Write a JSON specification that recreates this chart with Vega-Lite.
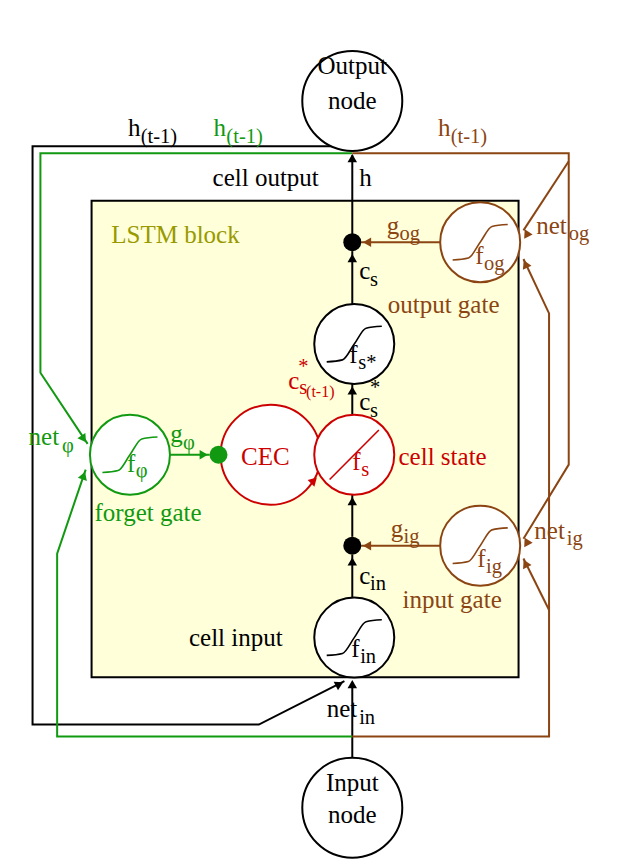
{
  "$schema": "https://vega.github.io/schema/vega-lite/v6.json",
  "autosize": {"type": "fit", "contains": "padding"},
  "width": 618,
  "height": 867,
  "background": "white",
  "config": {"view": {"stroke": null}},
  "datasets": {
    "block": [{"x": 88, "x2": 522, "y": 198, "y2": 680}],
    "paths": [
      {"id": "b1", "o": 1, "x": 353, "y": 240, "c": "black"}, {"id": "b1", "o": 2, "x": 353, "y": 152, "c": "black"},
      {"id": "b2", "o": 1, "x": 345, "y": 684, "c": "black"}, {"id": "b2", "o": 2, "x": 258, "y": 728, "c": "black"},
      {"id": "b2", "o": 3, "x": 28, "y": 728, "c": "black"}, {"id": "b2", "o": 4, "x": 28, "y": 143, "c": "black"},
      {"id": "b2", "o": 5, "x": 353, "y": 143, "c": "black"},
      {"id": "b3", "o": 1, "x": 353, "y": 762, "c": "black"}, {"id": "b3", "o": 2, "x": 353, "y": 685, "c": "black"},
      {"id": "b4", "o": 1, "x": 353, "y": 600, "c": "black"}, {"id": "b4", "o": 2, "x": 353, "y": 556, "c": "black"},
      {"id": "b5", "o": 1, "x": 353, "y": 538, "c": "black"}, {"id": "b5", "o": 2, "x": 353, "y": 495, "c": "black"},
      {"id": "b6", "o": 1, "x": 353, "y": 415, "c": "black"}, {"id": "b6", "o": 2, "x": 353, "y": 383, "c": "black"},
      {"id": "b7", "o": 1, "x": 353, "y": 303, "c": "black"}, {"id": "b7", "o": 2, "x": 353, "y": 249, "c": "black"},
      {"id": "g1", "o": 1, "x": 353, "y": 150, "c": "green"}, {"id": "g1", "o": 2, "x": 36, "y": 150, "c": "green"},
      {"id": "g1", "o": 3, "x": 36, "y": 372, "c": "green"}, {"id": "g1", "o": 4, "x": 84, "y": 444, "c": "green"},
      {"id": "g2", "o": 1, "x": 353, "y": 740, "c": "green"}, {"id": "g2", "o": 2, "x": 53, "y": 740, "c": "green"},
      {"id": "g2", "o": 3, "x": 53, "y": 555, "c": "green"}, {"id": "g2", "o": 4, "x": 82, "y": 470, "c": "green"},
      {"id": "g3", "o": 1, "x": 167, "y": 455, "c": "green"}, {"id": "g3", "o": 2, "x": 208, "y": 455, "c": "green"},
      {"id": "r1", "o": 1, "x": 353, "y": 150, "c": "brown"}, {"id": "r1", "o": 2, "x": 573, "y": 150, "c": "brown"},
      {"id": "r1", "o": 3, "x": 573, "y": 465, "c": "brown"}, {"id": "r1", "o": 4, "x": 527, "y": 540, "c": "brown"},
      {"id": "r2", "o": 1, "x": 573, "y": 158, "c": "brown"}, {"id": "r2", "o": 2, "x": 527, "y": 228, "c": "brown"},
      {"id": "r3", "o": 1, "x": 353, "y": 740, "c": "brown"}, {"id": "r3", "o": 2, "x": 553, "y": 740, "c": "brown"},
      {"id": "r3", "o": 3, "x": 553, "y": 312, "c": "brown"}, {"id": "r3", "o": 4, "x": 527, "y": 257, "c": "brown"},
      {"id": "r4", "o": 1, "x": 553, "y": 612, "c": "brown"}, {"id": "r4", "o": 2, "x": 527, "y": 560, "c": "brown"},
      {"id": "r5", "o": 1, "x": 443, "y": 240, "c": "brown"}, {"id": "r5", "o": 2, "x": 362, "y": 240, "c": "brown"},
      {"id": "r6", "o": 1, "x": 443, "y": 547, "c": "brown"}, {"id": "r6", "o": 2, "x": 362, "y": 547, "c": "brown"}
    ],
    "circles": [
      {"x": 353, "y": 97, "k": "node", "c": "black"},
      {"x": 353, "y": 812, "k": "node", "c": "black"},
      {"x": 127, "y": 455, "k": "gate", "c": "green"},
      {"x": 270, "y": 455, "k": "node", "c": "red"},
      {"x": 355, "y": 455, "k": "gate", "c": "red"},
      {"x": 355, "y": 343, "k": "gate", "c": "black"},
      {"x": 355, "y": 640, "k": "gate", "c": "black"},
      {"x": 483, "y": 240, "k": "gate", "c": "brown"},
      {"x": 483, "y": 547, "k": "gate", "c": "brown"}
    ],
    "dots": [
      {"x": 353, "y": 240, "c": "black"},
      {"x": 353, "y": 547, "c": "black"},
      {"x": 217, "y": 455, "c": "green"}
    ],
    "curves": [
      {"id": "s1", "o": 1, "x": 99, "y": 473, "c": "green"}, {"id": "s1", "o": 2, "x": 115, "y": 471, "c": "green"}, {"id": "s1", "o": 3, "x": 127, "y": 455, "c": "green"}, {"id": "s1", "o": 4, "x": 139, "y": 439, "c": "green"}, {"id": "s1", "o": 5, "x": 155, "y": 437, "c": "green"},
      {"id": "s2", "o": 1, "x": 327, "y": 361, "c": "black"}, {"id": "s2", "o": 2, "x": 343, "y": 359, "c": "black"}, {"id": "s2", "o": 3, "x": 355, "y": 343, "c": "black"}, {"id": "s2", "o": 4, "x": 367, "y": 327, "c": "black"}, {"id": "s2", "o": 5, "x": 383, "y": 325, "c": "black"},
      {"id": "s3", "o": 1, "x": 327, "y": 658, "c": "black"}, {"id": "s3", "o": 2, "x": 343, "y": 656, "c": "black"}, {"id": "s3", "o": 3, "x": 355, "y": 640, "c": "black"}, {"id": "s3", "o": 4, "x": 367, "y": 624, "c": "black"}, {"id": "s3", "o": 5, "x": 383, "y": 622, "c": "black"},
      {"id": "s4", "o": 1, "x": 455, "y": 258, "c": "brown"}, {"id": "s4", "o": 2, "x": 471, "y": 256, "c": "brown"}, {"id": "s4", "o": 3, "x": 483, "y": 240, "c": "brown"}, {"id": "s4", "o": 4, "x": 495, "y": 224, "c": "brown"}, {"id": "s4", "o": 5, "x": 511, "y": 222, "c": "brown"},
      {"id": "s5", "o": 1, "x": 455, "y": 565, "c": "brown"}, {"id": "s5", "o": 2, "x": 471, "y": 563, "c": "brown"}, {"id": "s5", "o": 3, "x": 483, "y": 547, "c": "brown"}, {"id": "s5", "o": 4, "x": 495, "y": 531, "c": "brown"}, {"id": "s5", "o": 5, "x": 511, "y": 529, "c": "brown"},
      {"id": "s6", "o": 1, "x": 330, "y": 480, "c": "red"}, {"id": "s6", "o": 2, "x": 380, "y": 430, "c": "red"}
    ],
    "arrows": [
      {"x": 353, "y": 155, "a": 0, "c": "black"},
      {"x": 353, "y": 256, "a": 0, "c": "black"},
      {"x": 353, "y": 390, "a": 0, "c": "black"},
      {"x": 353, "y": 502, "a": 0, "c": "black"},
      {"x": 353, "y": 563, "a": 0, "c": "black"},
      {"x": 353, "y": 687, "a": 0, "c": "black"},
      {"x": 340, "y": 687, "a": 63, "c": "black"},
      {"x": 368, "y": 240, "a": 270, "c": "brown"},
      {"x": 368, "y": 547, "a": 270, "c": "brown"},
      {"x": 202, "y": 455, "a": 90, "c": "green"},
      {"x": 80, "y": 439, "a": 146, "c": "green"},
      {"x": 80, "y": 476, "a": 19, "c": "green"},
      {"x": 530, "y": 233, "a": 213, "c": "brown"},
      {"x": 529, "y": 262, "a": 335, "c": "brown"},
      {"x": 530, "y": 545, "a": 213, "c": "brown"},
      {"x": 529, "y": 565, "a": 333, "c": "brown"},
      {"x": 314, "y": 481, "a": 45, "c": "red"}
    ],
    "centered": [
      {"x": 353, "y": 70, "t": "Output", "c": "black"},
      {"x": 353, "y": 105, "t": "node", "c": "black"},
      {"x": 353, "y": 795, "t": "Input", "c": "black"},
      {"x": 353, "y": 828, "t": "node", "c": "black"}
    ],
    "labels": [
      {"x": 125, "y": 133, "t": "h", "r": "big", "c": "black"},
      {"x": 138, "y": 140, "t": "(t-1)", "r": "sub", "c": "black"},
      {"x": 212, "y": 133, "t": "h", "r": "big", "c": "green"},
      {"x": 225, "y": 140, "t": "(t-1)", "r": "sub", "c": "green"},
      {"x": 440, "y": 133, "t": "h", "r": "big", "c": "brown"},
      {"x": 453, "y": 140, "t": "(t-1)", "r": "sub", "c": "brown"},
      {"x": 211, "y": 183, "t": "cell output", "r": "big", "c": "black"},
      {"x": 360, "y": 183, "t": "h", "r": "big", "c": "black"},
      {"x": 108, "y": 241, "t": "LSTM block", "r": "big", "c": "olive"},
      {"x": 388, "y": 232, "t": "g", "r": "big", "c": "brown"},
      {"x": 401, "y": 238, "t": "og", "r": "sub", "c": "brown"},
      {"x": 540, "y": 232, "t": "net", "r": "big", "c": "brown"},
      {"x": 573, "y": 238, "t": "og", "r": "sub", "c": "brown"},
      {"x": 478, "y": 262, "t": "f", "r": "big", "c": "brown"},
      {"x": 487, "y": 268, "t": "og", "r": "sub", "c": "brown"},
      {"x": 360, "y": 277, "t": "c", "r": "big", "c": "black"},
      {"x": 371, "y": 284, "t": "s", "r": "sub", "c": "black"},
      {"x": 389, "y": 312, "t": "output gate", "r": "big", "c": "brown"},
      {"x": 350, "y": 362, "t": "f", "r": "big", "c": "black"},
      {"x": 359, "y": 368, "t": "s*", "r": "sub", "c": "black"},
      {"x": 288, "y": 388, "t": "c", "r": "big", "c": "red"},
      {"x": 298, "y": 372, "t": "*", "r": "sub", "c": "red"},
      {"x": 299, "y": 394, "t": "s", "r": "sub", "c": "red"},
      {"x": 306, "y": 397, "t": "(t-1)", "r": "small", "c": "red"},
      {"x": 360, "y": 410, "t": "c", "r": "big", "c": "black"},
      {"x": 371, "y": 394, "t": "*", "r": "sub", "c": "black"},
      {"x": 371, "y": 417, "t": "s", "r": "sub", "c": "black"},
      {"x": 24, "y": 445, "t": "net", "r": "big", "c": "green"},
      {"x": 58, "y": 452, "t": "φ", "r": "sub", "c": "green"},
      {"x": 168, "y": 442, "t": "g", "r": "big", "c": "green"},
      {"x": 181, "y": 449, "t": "φ", "r": "sub", "c": "green"},
      {"x": 124, "y": 472, "t": "f", "r": "big", "c": "green"},
      {"x": 133, "y": 478, "t": "φ", "r": "sub", "c": "green"},
      {"x": 240, "y": 465, "t": "CEC", "r": "big", "c": "red"},
      {"x": 353, "y": 470, "t": "f", "r": "big", "c": "red"},
      {"x": 362, "y": 476, "t": "s", "r": "sub", "c": "red"},
      {"x": 400, "y": 465, "t": "cell state", "r": "big", "c": "red"},
      {"x": 91, "y": 522, "t": "forget gate", "r": "big", "c": "green"},
      {"x": 392, "y": 538, "t": "g", "r": "big", "c": "brown"},
      {"x": 405, "y": 544, "t": "ig", "r": "sub", "c": "brown"},
      {"x": 538, "y": 540, "t": "net", "r": "big", "c": "brown"},
      {"x": 571, "y": 546, "t": "ig", "r": "sub", "c": "brown"},
      {"x": 480, "y": 569, "t": "f", "r": "big", "c": "brown"},
      {"x": 489, "y": 575, "t": "ig", "r": "sub", "c": "brown"},
      {"x": 360, "y": 586, "t": "c", "r": "big", "c": "black"},
      {"x": 371, "y": 592, "t": "in", "r": "sub", "c": "black"},
      {"x": 404, "y": 610, "t": "input gate", "r": "big", "c": "brown"},
      {"x": 187, "y": 648, "t": "cell input", "r": "big", "c": "black"},
      {"x": 352, "y": 660, "t": "f", "r": "big", "c": "black"},
      {"x": 361, "y": 666, "t": "in", "r": "sub", "c": "black"},
      {"x": 327, "y": 720, "t": "net", "r": "big", "c": "black"},
      {"x": 360, "y": 727, "t": "in", "r": "sub", "c": "black"}
    ]
  },
  "layer": [
    {
      "data": {"name": "block"},
      "mark": {"type": "rect", "fill": "#ffffd9", "stroke": "black", "strokeWidth": 2},
      "encoding": {
        "x": {"field": "x", "type": "quantitative", "scale": {"domain": [0, 618], "nice": false, "zero": false}, "axis": null},
        "y": {"field": "y", "type": "quantitative", "scale": {"domain": [0, 867], "nice": false, "zero": false, "reverse": true}, "axis": null},
        "x2": {"field": "x2"},
        "y2": {"field": "y2"}
      }
    },
    {
      "data": {"name": "paths"},
      "mark": {"type": "line", "strokeWidth": 2},
      "encoding": {
        "x": {"field": "x", "type": "quantitative"},
        "y": {"field": "y", "type": "quantitative"},
        "color": {"field": "c", "type": "nominal", "legend": null, "scale": {"domain": ["black", "green", "brown", "red", "olive"], "range": ["#000000", "#119911", "#8b4513", "#cc0000", "#999900"]}},
        "detail": {"field": "id"},
        "order": {"field": "o", "type": "quantitative"}
      }
    },
    {
      "data": {"name": "circles"},
      "mark": {"type": "point", "shape": "circle", "filled": false, "fill": "white", "fillOpacity": 1, "strokeWidth": 2, "opacity": 1},
      "encoding": {
        "x": {"field": "x", "type": "quantitative"},
        "y": {"field": "y", "type": "quantitative"},
        "size": {"field": "k", "type": "nominal", "legend": null, "scale": {"domain": ["node", "gate"], "range": [10000, 6400]}},
        "color": {"field": "c", "type": "nominal", "legend": null}
      }
    },
    {
      "data": {"name": "dots"},
      "mark": {"type": "point", "shape": "circle", "filled": true, "size": 324, "opacity": 1},
      "encoding": {
        "x": {"field": "x", "type": "quantitative"},
        "y": {"field": "y", "type": "quantitative"},
        "color": {"field": "c", "type": "nominal", "legend": null}
      }
    },
    {
      "data": {"name": "curves"},
      "mark": {"type": "line", "strokeWidth": 1.6, "interpolate": "monotone"},
      "encoding": {
        "x": {"field": "x", "type": "quantitative"},
        "y": {"field": "y", "type": "quantitative"},
        "color": {"field": "c", "type": "nominal", "legend": null},
        "detail": {"field": "id"},
        "order": {"field": "o", "type": "quantitative"}
      }
    },
    {
      "data": {"name": "arrows"},
      "mark": {"type": "point", "shape": "triangle-up", "filled": true, "size": 90, "opacity": 1},
      "encoding": {
        "x": {"field": "x", "type": "quantitative"},
        "y": {"field": "y", "type": "quantitative"},
        "color": {"field": "c", "type": "nominal", "legend": null},
        "angle": {"field": "a", "type": "quantitative", "scale": {"domain": [0, 360], "range": [0, 360]}}
      }
    },
    {
      "data": {"name": "centered"},
      "mark": {"type": "text", "font": "Liberation Serif", "baseline": "alphabetic", "align": "center", "fontSize": 25},
      "encoding": {
        "x": {"field": "x", "type": "quantitative"},
        "y": {"field": "y", "type": "quantitative"},
        "color": {"field": "c", "type": "nominal", "legend": null},
        "text": {"field": "t"}
      }
    },
    {
      "data": {"name": "labels"},
      "mark": {"type": "text", "font": "Liberation Serif", "baseline": "alphabetic", "align": "left"},
      "encoding": {
        "x": {"field": "x", "type": "quantitative"},
        "y": {"field": "y", "type": "quantitative"},
        "color": {"field": "c", "type": "nominal", "legend": null},
        "text": {"field": "t"},
        "size": {"field": "r", "type": "nominal", "legend": null, "scale": {"domain": ["big", "sub", "small"], "range": [25, 16, 11]}}
      }
    }
  ],
  "resolve": {"scale": {"size": "independent"}}
}
